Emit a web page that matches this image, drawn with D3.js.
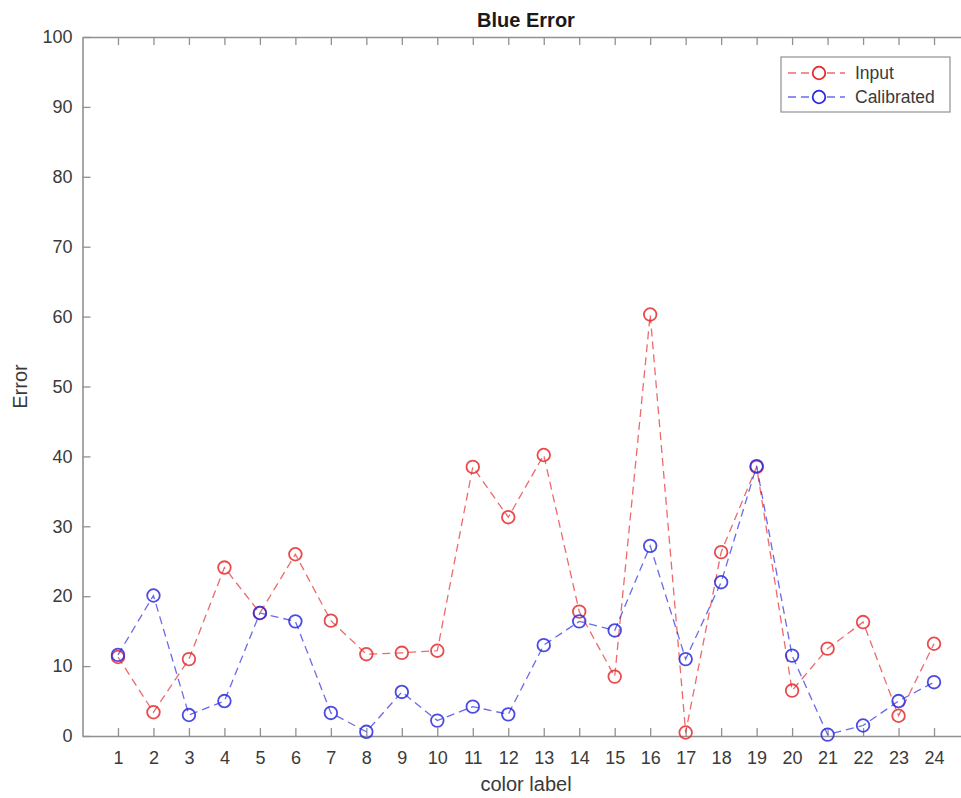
<!DOCTYPE html>
<html>
<head>
<meta charset="utf-8">
<script src="https://cdn.jsdelivr.net/npm/d3@7"></script>
<style>
  html, body { margin: 0; padding: 0; background: #fff; }
  svg { display: block; font-family: "Liberation Sans", Arial, Helvetica, sans-serif; }
</style>
</head>
<body>
<svg id="chart" width="961" height="798"></svg>
<script>
// Colour patch labels 1..24
const labels = d3.range(1, 25);
// Blue-channel error before calibration
const inputErr = [11.3, 3.4, 11.0, 24.1, 17.6, 26.0, 16.5, 11.7, 11.9, 12.2, 38.5, 31.3,
                  40.2, 17.8, 8.5, 60.3, 0.5, 26.3, 38.5, 6.5, 12.5, 16.3, 2.9, 13.2];
// Blue-channel error after calibration
const calibratedErr = [11.6, 20.1, 3.0, 5.0, 17.6, 16.4, 3.3, 0.6, 6.3, 2.2, 4.2, 3.1,
                       13.0, 16.4, 15.1, 27.2, 11.0, 22.0, 38.6, 11.5, 0.2, 1.5, 5.0, 7.7];
const yTicks = d3.range(0, 101, 10);
const seriesNames = ["Input", "Calibrated"];
const seriesColors = ["#e52b2e", "#2b2bdf"];

const svg = d3.select("#chart");
const plotLeft = 82.5, plotRight = 969.5, plotTop = 37, plotBottom = 736;

const x = d3.scaleLinear().domain([0, 25]).range([plotLeft, plotRight]);
const y = d3.scaleLinear().domain([0, 100]).range([plotBottom, plotTop]);

const axisColor = "#919191";
const textColor = "#3a3a3a";
const tickLen = 8;

// Axes with inward ticks on all four sides
const gBottom = svg.append("g").attr("transform", `translate(0,${plotBottom})`)
  .call(d3.axisBottom(x).tickValues(labels).tickSizeInner(-tickLen).tickSizeOuter(0).tickPadding(15));
const gTop = svg.append("g").attr("transform", `translate(0,${plotTop})`)
  .call(d3.axisTop(x).tickValues(labels).tickSizeInner(-tickLen).tickSizeOuter(0).tickFormat(""));
const gLeft = svg.append("g").attr("transform", `translate(${plotLeft},0)`)
  .call(d3.axisLeft(y).tickValues(yTicks).tickSizeInner(-tickLen).tickSizeOuter(0).tickPadding(10));
const gRight = svg.append("g").attr("transform", `translate(${plotRight},0)`)
  .call(d3.axisRight(y).tickValues(yTicks).tickSizeInner(-tickLen).tickSizeOuter(0).tickFormat(""));

[gBottom, gTop, gLeft, gRight].forEach(g => {
  g.select(".domain").attr("stroke", axisColor).attr("stroke-width", 1.6);
  g.selectAll(".tick line").attr("stroke", axisColor).attr("stroke-width", 1.3);
  g.selectAll(".tick text").attr("fill", textColor).attr("font-size", 18)
    .attr("font-family", "Liberation Sans, Arial, sans-serif");
});

// Title and axis labels
svg.append("text").attr("x", (plotLeft + plotRight) / 2).attr("y", 27)
  .attr("text-anchor", "middle").attr("font-size", 20).attr("font-weight", "bold")
  .attr("fill", "#1a1a1a").text("Blue Error");
svg.append("text").attr("x", (plotLeft + plotRight) / 2).attr("y", 791)
  .attr("text-anchor", "middle").attr("font-size", 20).attr("fill", textColor).text("color label");
svg.append("text").attr("transform", `translate(27,${(plotTop + plotBottom) / 2}) rotate(-90)`)
  .attr("text-anchor", "middle").attr("font-size", 20).attr("fill", textColor).text("Error");

// Dashed lines with open circle markers
const line = d3.line().x((d, i) => x(labels[i])).y(d => y(d));
const allSeries = [inputErr, calibratedErr];
allSeries.forEach((vals, k) => {
  const g = svg.append("g");
  g.append("path").datum(vals).attr("d", line)
    .attr("fill", "none").attr("stroke", seriesColors[k]).attr("stroke-opacity", 0.7)
    .attr("stroke-width", 1.3).attr("stroke-dasharray", "8,5");
  g.selectAll("circle").data(vals).join("circle")
    .attr("cx", (d, i) => x(labels[i])).attr("cy", d => y(d)).attr("r", 6.3)
    .attr("fill", "none").attr("stroke", seriesColors[k]).attr("stroke-opacity", 0.85)
    .attr("stroke-width", 1.8);
});

// Legend
const lg = svg.append("g");
lg.append("rect").attr("x", 781).attr("y", 57).attr("width", 169).attr("height", 55)
  .attr("fill", "#fff").attr("stroke", axisColor).attr("stroke-width", 1.2);
seriesNames.forEach((name, k) => {
  const ly = 73 + k * 24;
  lg.append("line").attr("x1", 788).attr("x2", 845).attr("y1", ly).attr("y2", ly)
    .attr("stroke", seriesColors[k]).attr("stroke-opacity", 0.7)
    .attr("stroke-width", 1.3).attr("stroke-dasharray", "8,5");
  lg.append("circle").attr("cx", 819).attr("cy", ly).attr("r", 6.3)
    .attr("fill", "#fff").attr("stroke", seriesColors[k]).attr("stroke-width", 1.8);
  lg.append("text").attr("x", 855).attr("y", ly + 6).attr("font-size", 17.5)
    .attr("fill", textColor).text(name);
});
</script>
</body>
</html>
